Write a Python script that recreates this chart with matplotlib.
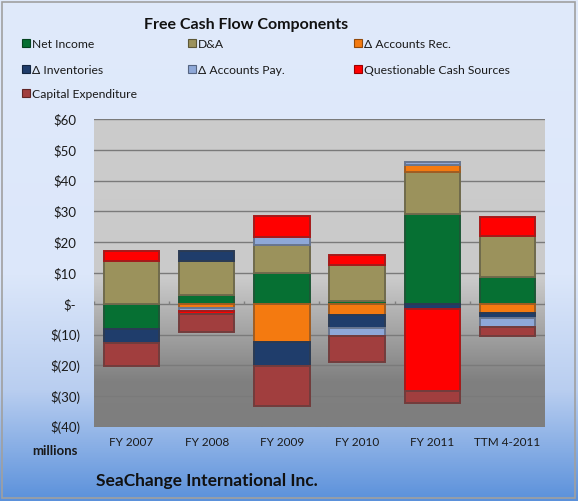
import numpy as np
import matplotlib
matplotlib.use("Agg")
import matplotlib.pyplot as plt
from matplotlib.colors import LinearSegmentedColormap, to_rgb
from matplotlib.patches import Rectangle

plt.rcParams['font.family'] = ['Lato', 'DejaVu Sans']

# ── data ($ millions) ────────────────────────────────────────────
categories = ["FY 2007", "FY 2008", "FY 2009", "FY 2010", "FY 2011", "TTM 4-2011"]
series_names = ["Net Income", "D&A", "\u0394 Accounts Rec.", "\u0394 Inventories",
                "\u0394 Accounts Pay.", "Questionable Cash Sources", "Capital Expenditure"]
net_income   = [-8.2,  2.7, 10.0,  1.0, 29.1,  8.8]
d_and_a      = [13.8, 11.2,  9.2, 11.7, 13.7, 13.3]
accts_rec    = [ 0.0, -1.5, -12.3, -3.7,  2.3, -3.1]
inventories  = [-4.6,  3.2, -7.8, -4.0, -1.7, -1.5]
accts_pay    = [ 0.0, -0.7,  2.4, -2.9,  0.8, -2.8]
questionable = [ 3.4, -1.1,  6.8,  3.2, -26.7, 6.2]
capex        = [-7.3, -5.9, -13.0, -8.4, -3.9, -2.9]
colors = ["#067033", "#9B925C", "#F47A10", "#1F3D6B", "#8EA8D8", "#FF0000", "#A13E3E"]
yticks = [60, 50, 40, 30, 20, 10, 0, -10, -20, -30, -40]
ytick_labels = ["$60", "$50", "$40", "$30", "$20", "$10", "$-", "$(10)", "$(20)", "$(30)", "$(40)"]

values = [net_income, d_and_a, accts_rec, inventories, accts_pay, questionable, capex]

W, H = 578, 502
fig = plt.figure(figsize=(W / 100, H / 100), dpi=100)

# ── figure background gradient ───────────────────────────────────
bg = fig.add_axes([0, 0, 1, 1], zorder=-10)
bg_cmap = LinearSegmentedColormap.from_list(
    "bg", [(0.0, "#E0EAFB"), (0.55, "#DCE7FA"), (0.78, "#B9CEF0"), (1.0, "#5B91DB")])
grad = np.linspace(0, 1, 256).reshape(-1, 1)
bg.imshow(grad, cmap=bg_cmap, aspect="auto", extent=[0, 1, 0, 1], origin="upper")
bg.add_patch(Rectangle((0.003, 0.006), 0.992, 0.989, fill=False, edgecolor="#A0A0A0", lw=1.2))
bg.set_xlim(0, 1); bg.set_ylim(0, 1)
bg.axis("off")

# ── plot area ────────────────────────────────────────────────────
left, right, top, bottom = 94, 545, 120, 428
ax = fig.add_axes([left / W, 1 - bottom / H, (right - left) / W, (bottom - top) / H])
ax.set_xlim(-0.5, len(categories) - 0.5)
ax.set_ylim(-40, 60)
pa_cmap = LinearSegmentedColormap.from_list(
    "pa", [(0.0, "#CCCCCC"), (0.52, "#CACACA"), (0.85, "#808080"), (1.0, "#7E7E7E")])
ax.imshow(grad, cmap=pa_cmap, aspect="auto", extent=[-0.5, len(categories) - 0.5, -40, 60],
          origin="upper", zorder=0)
for y in yticks:
    ax.axhline(y, color="#7A7A7A", lw=1.0, zorder=1)

x = np.arange(len(categories))
pos_base = np.zeros(len(categories))
neg_base = np.zeros(len(categories))
for vals, col in zip(values, colors):
    v = np.array(vals)
    base = np.where(v >= 0, pos_base, neg_base)
    r, g, b = to_rgb(col)
    edge = (r * 0.55 + 0.1, g * 0.55 + 0.1, b * 0.55 + 0.1)
    ax.bar(x, v, width=0.735, bottom=base, color=col, edgecolor=edge, linewidth=1.4, zorder=3)
    pos_base += np.where(v > 0, v, 0)
    neg_base += np.where(v < 0, v, 0)

# category tick marks on the zero line
ax.vlines(np.arange(len(categories) + 1) - 0.5, -0.0, 1.0, color="#808080", lw=1, zorder=2)

ax.set_xticks([])
ax.set_yticks([])
for s in ax.spines.values():
    s.set_visible(False)

# ── axis labels ──────────────────────────────────────────────────
for yv, lab in zip(yticks, ytick_labels):
    ypx = top + (60 - yv) / 100 * (bottom - top)
    xr = 80 if "(" in lab else 76
    fig.text(xr / W, 1 - ypx / H, lab, ha="right", va="center", fontsize=9.5, color="#1A1A1A")
for i, c in enumerate(categories):
    xpx = left + (i + 0.5) / len(categories) * (right - left)
    fig.text(xpx / W, 1 - 443 / H, c, ha="center", va="center", fontsize=8.5, color="#1A1A1A")

fig.text(55 / W, 1 - 451 / H, "millions", ha="center", va="center", fontsize=9.5,
         fontweight="bold", color="#1A1A1A")
fig.text(96 / W, 1 - 481 / H, "SeaChange International Inc.", ha="left", va="center",
         fontsize=12.5, fontweight="bold", color="#111111")
fig.text(246 / W, 1 - 25 / H, "Free Cash Flow Components", ha="center", va="center",
         fontsize=11.5, fontweight="bold", color="#111111")

# ── legend (three columns) ───────────────────────────────────────
col_x = [22, 188, 354]
row_y = [44, 70, 94]
for k, (name, col) in enumerate(zip(series_names, colors)):
    cx, ry = col_x[k % 3], row_y[k // 3]
    r, g, b = to_rgb(col)
    bg.add_patch(Rectangle((cx / W, 1 - (ry + 4) / H), 8 / W, 8 / H, facecolor=col,
                           edgecolor=(r * 0.6, g * 0.6, b * 0.6), lw=0.8))
    fig.text((cx + 10) / W, 1 - ry / H, name, ha="left", va="center", fontsize=8.7,
             color="#1A1A1A")

fig.savefig("out.png", dpi=100)
